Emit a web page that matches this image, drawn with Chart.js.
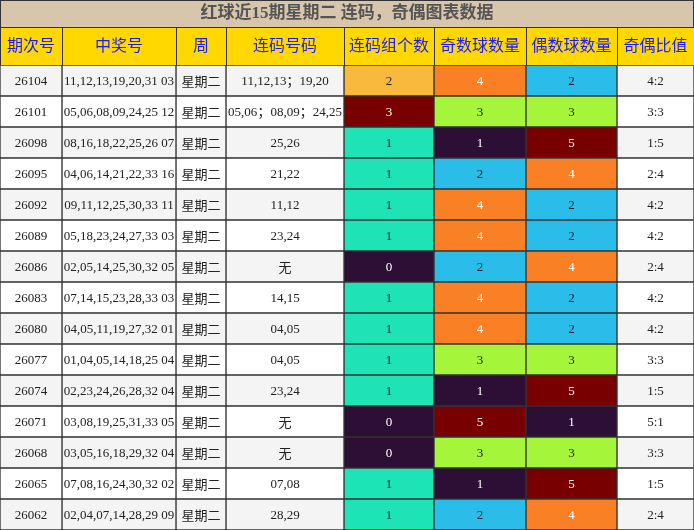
<!DOCTYPE html>
<html><head><meta charset="utf-8">
<script src="https://cdn.jsdelivr.net/npm/chart.js@4/dist/chart.umd.min.js"></script>
<style>html,body{margin:0;padding:0;background:#fff}#wrap{width:694px;height:530px}</style>
</head><body><div id="wrap"><canvas id="tbl"></canvas></div>
<script>
var title = '红球近15期星期二 连码，奇偶图表数据';
var headers = ['期次号', '中奖号', '周', '连码号码', '连码组个数', '奇数球数量', '偶数球数量', '奇偶比值'];
var colWidths = [62, 114, 50, 118, 90, 92, 91, 77];
var issues = ['26104','26101','26098','26095','26092','26089','26086','26083','26080','26077','26074','26071','26068','26065','26062'];
var numbers = ['11,12,13,19,20,31 03','05,06,08,09,24,25 12','08,16,18,22,25,26 07','04,06,14,21,22,33 16','09,11,12,25,30,33 11','05,18,23,24,27,33 03','02,05,14,25,30,32 05','07,14,15,23,28,33 03','04,05,11,19,27,32 01','01,04,05,14,18,25 04','02,23,24,26,28,32 04','03,08,19,25,31,33 05','03,05,16,18,29,32 04','07,08,16,24,30,32 02','02,04,07,14,28,29 09'];
var weekday = '星期二';
var runs = ['11,12,13；19,20','05,06；08,09；24,25','25,26','21,22','11,12','23,24','无','14,15','04,05','04,05','23,24','无','无','07,08','28,29'];
var runCount = [2,3,1,1,1,1,0,1,1,1,1,0,0,1,1];
var oddCount = [4,3,1,2,4,4,2,4,4,3,1,5,3,1,2];
var evenCount = [2,3,5,4,2,2,4,2,2,3,5,1,3,5,4];

var runColors = {0:'#2d0f35',1:'#1de3b6',2:'#f9b93c',3:'#780000'};
var oeColors = {1:'#2d0f35',2:'#2bbdea',3:'#a5f53a',4:'#f98024',5:'#780000'};
var darkBg = ['#2d0f35','#780000','#f98024'];

var rowBg = issues.map((v, i) => i % 2 === 0 ? '#f4f4f4' : '#ffffff');
var texts = [
    issues, numbers, issues.map(() => weekday), runs,
    runCount.map(String), oddCount.map(String), evenCount.map(String),
    oddCount.map((o, i) => o + ':' + evenCount[i])
];
var fills = [rowBg, rowBg, rowBg, rowBg,
    runCount.map(v => runColors[v]), oddCount.map(v => oeColors[v]), evenCount.map(v => oeColors[v]), rowBg];

var tablePlugin = {
    id: 'tablePlugin',
    beforeDraw: function(chart) {
        var ctx = chart.ctx;
        ctx.save();
        ctx.fillStyle = '#d7c6ab';
        ctx.fillRect(0, 0, 694, 27);
        ctx.fillStyle = '#ffd800';
        ctx.fillRect(0, 27, 694, 38);
        ctx.strokeStyle = '#333';
        ctx.lineWidth = 1;
        ctx.strokeRect(0.5, 0.5, 693, 27);
        ctx.fillStyle = '#555';
        ctx.font = 'bold 17px "Liberation Serif", "Noto Sans CJK SC"';
        ctx.textAlign = 'center';
        ctx.textBaseline = 'middle';
        ctx.fillText(title, 347, 14);
        ctx.font = '16px "Liberation Serif", "Noto Sans CJK SC"';
        var x = 0;
        headers.forEach(function(h, i) {
            ctx.strokeRect(x + 0.5, 27.5, colWidths[i], 38);
            ctx.fillStyle = '#1a1aff';
            ctx.fillText(h, x + colWidths[i] / 2, 47);
            x += colWidths[i];
        });
        ctx.restore();
    },
    afterDatasetsDraw: function(chart) {
        var ctx = chart.ctx;
        ctx.save();
        ctx.textAlign = 'center';
        ctx.textBaseline = 'middle';
        chart.data.datasets.forEach(function(ds, di) {
            chart.getDatasetMeta(di).data.forEach(function(bar, i) {
                var cx = (bar.x + bar.base) / 2;
                var bg = fills[di][i];
                ctx.fillStyle = darkBg.indexOf(bg) >= 0 ? '#ffffff' : '#222';
                var t = texts[di][i];
                ctx.font = (di === 2 || t === '无') ? '13px "Noto Sans CJK SC"' : '13px "Liberation Serif", "Noto Sans CJK SC"';
                ctx.fillText(t, cx, bar.y + 1);
            });
        });
        ctx.restore();
    }
};

new Chart(document.getElementById('tbl'), {
    type: 'bar',
    data: {
        labels: issues,
        datasets: colWidths.map(function(w, c) {
            return {
                data: issues.map(() => w),
                backgroundColor: fills[c],
                borderColor: '#333',
                borderWidth: 1,
                borderSkipped: false,
                barPercentage: 1,
                categoryPercentage: 1
            };
        })
    },
    options: {
        indexAxis: 'y',
        maintainAspectRatio: false,
        responsive: true,
        animation: false,
        events: [],
        layout: { padding: { top: 65, left: 0, right: 0, bottom: 0 } },
        plugins: { legend: { display: false }, tooltip: { enabled: false } },
        scales: {
            x: { stacked: true, min: 0, max: 694, display: false },
            y: { stacked: true, display: false }
        }
    },
    plugins: [tablePlugin]
});
</script>
</body></html>
